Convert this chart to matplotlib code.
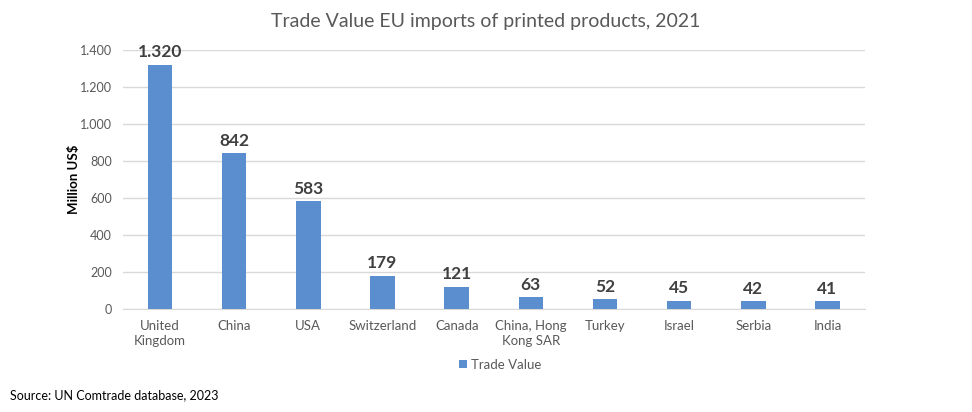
import numpy as np
import matplotlib.pyplot as plt

# -------------------------
# Data
# -------------------------
countries = ["United\nKingdom", "China", "USA", "Switzerland", "Canada",
             "China, Hong\nKong SAR", "Turkey", "Israel", "Serbia", "India"]
trade_value = [1320, 842, 583, 179, 121, 63, 52, 45, 42, 41]
yticks = [0, 200, 400, 600, 800, 1000, 1200, 1400]

plt.rcParams['font.family'] = ['Lato', 'DejaVu Sans']

def dotfmt(v):
    return f"{v:,.0f}".replace(",", ".")

# -------------------------
# Plotting
# -------------------------
fig = plt.figure(figsize=(9.72, 4.12), dpi=100)
ax = fig.add_axes([0.1265, 0.25, 0.763, 0.6286])

x = np.arange(len(countries))
bars = ax.bar(x, trade_value, width=0.33, color='#5B8ECF', zorder=3, label='Trade Value')

for xi, v in zip(x, trade_value):
    ax.text(xi, v + 25, dotfmt(v), ha='center', va='bottom', fontsize=12.5,
            fontweight='bold', color='#404040')

ax.set_xlim(-0.5, len(countries) - 0.5)
ax.set_ylim(0, 1400)
ax.set_yticks(yticks)
ax.set_yticklabels([dotfmt(t) for t in yticks], fontsize=9, color='#595959')
ax.set_xticks(x)
ax.set_xticklabels(countries, fontsize=9.5, color='#595959', linespacing=1.3)
ax.tick_params(axis='both', length=0, pad=8)
ax.yaxis.grid(True, color='#d9d9d9', linewidth=1, zorder=0)
for s in ['top', 'right', 'left']:
    ax.spines[s].set_visible(False)
ax.spines['bottom'].set_color('#d9d9d9')

ax.set_ylabel("Million US$", fontsize=9.5, fontweight='bold', color='black', labelpad=0)

fig.text(0.5, 0.948, "Trade Value EU imports of printed products, 2021",
         ha='center', va='center', fontsize=14, color='#595959')

fig.legend(handles=[bars], labels=['Trade Value'], loc='center', bbox_to_anchor=(0.515, 0.115),
           frameon=False, fontsize=9.5, handlelength=0.6, handleheight=0.6,
           handletextpad=0.3, labelcolor='#595959')

fig.text(0.01, 0.04, "Source: UN Comtrade database, 2023", fontsize=9, color='black',
         ha='left', va='center')

fig.savefig("out.png", dpi=100)
